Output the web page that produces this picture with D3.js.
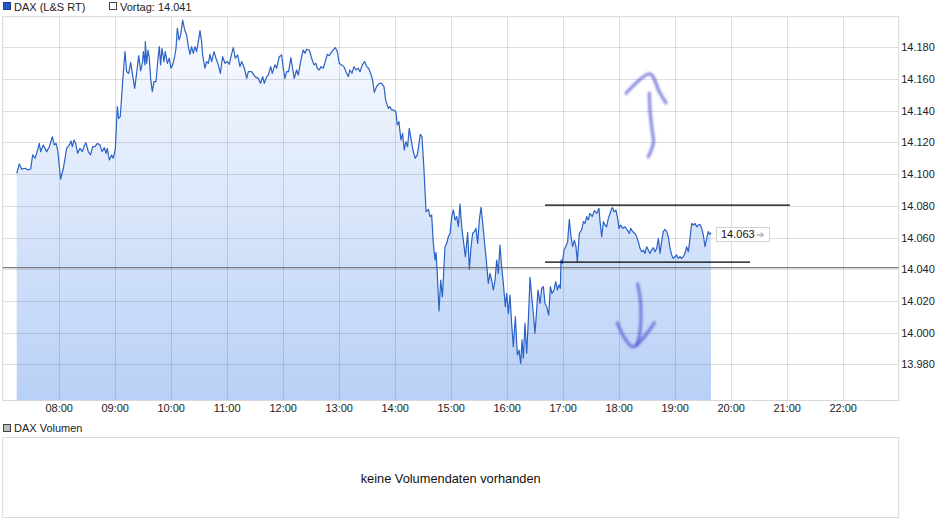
<!DOCTYPE html>
<html>
<head>
<meta charset="utf-8">
<script src="https://cdn.jsdelivr.net/npm/d3@7"></script>
<style>
  body { margin: 0; background: #fff; }
  svg { display: block; font-family: "Liberation Sans", Arial, sans-serif; }
</style>
</head>
<body>
<svg id="chart" width="940" height="526"></svg>
<script>
// ---------- DATA ----------
const seriesName = "DAX (L&S RT)";
const previousCloseLabel = "Vortag";
const previousClose = 14041;
const lastPrice = 14063;
const volumeName = "DAX Volumen";
const volumeMessage = "keine Volumendaten vorhanden";
const hourTicks = ["08:00","09:00","10:00","11:00","12:00","13:00","14:00","15:00","16:00","17:00","18:00","19:00","20:00","21:00","22:00"];
const priceTicks = [13980, 14000, 14020, 14040, 14060, 14080, 14100, 14120, 14140, 14160, 14180];

// minutes after 07:00
const minutesAfter7 = [
15.0,17.8,20.3,23.9,27.5,30.0,32.1,34.6,36.4,39.2,40.7,43.5,47.1,50.0,53.2,55.3,57.1,58.9,62.1,65.0,
68.5,71.4,73.2,74.6,76.4,78.2,80.3,82.8,85.3,87.1,89.2,91.7,94.2,96.4,98.9,101.4,104.2,106.4,108.9,110.7,
112.1,114.2,116.7,118.5,120.7,122.8,124.2,126.0,128.5,131.0,132.8,135.0,137.1,139.2,141.4,143.5,145.7,147.8,149.9,150.7,
152.4,152.8,154.2,155.7,157.1,158.5,160.3,162.1,164.2,166.4,167.8,169.2,170.7,172.8,174.2,176.4,178.5,180.3,182.1,183.9,
185.7,187.1,188.9,190.7,192.8,195.0,197.1,198.9,200.7,202.4,204.2,206.0,207.8,209.6,211.4,213.1,214.2,216.7,218.5,220.3,
222.1,223.9,226.4,228.5,231.0,233.2,235.6,238.2,240.7,242.8,245.0,247.1,249.2,251.7,254.2,256.0,258.9,261.4,263.2,266.7,
270.3,273.8,276.3,278.5,280.3,282.8,284.6,287.1,288.8,291.7,293.5,296.3,298.8,300.6,302.4,304.2,306.3,308.8,310.6,312.4,
314.9,316.7,319.2,322.0,323.8,325.6,328.5,331.0,333.5,335.6,337.0,339.2,341.0,343.5,345.6,347.8,349.9,352.0,354.2,356.3,
358.5,360.6,363.1,365.6,367.8,370.3,372.0,374.2,376.3,378.5,381.0,382.8,385.3,387.8,389.9,392.0,394.2,396.3,398.1,400.6,
403.5,406.0,408.5,410.3,413.1,414.9,416.7,418.5,421.3,422.8,424.5,426.7,428.5,430.2,432.0,433.8,435.6,437.7,439.5,442.0,
444.2,445.6,447.4,449.2,451.3,452.7,453.6,456.1,457.8,459.6,461.4,463.2,464.3,465.7,467.5,469.3,471.1,473.9,475.7,477.5,
479.3,481.1,482.8,484.6,486.4,488.2,490.0,491.8,493.5,495.7,498.2,500.0,501.8,503.5,505.3,507.1,508.9,510.7,512.5,514.3,
516.0,517.8,520.3,522.1,523.9,525.7,527.5,529.3,531.0,532.8,534.6,536.4,538.5,540.0,541.8,543.5,545.3,547.1,549.3,551.4,
553.2,555.0,556.4,557.8,559.6,561.4,563.2,565.0,566.8,568.5,570.3,572.1,573.5,575.7,577.5,579.3,581.0,582.8,585.0,586.8,
588.5,590.7,592.5,594.3,596.0,597.5,598.2,599.6,601.4,603.2,605.3,607.1,608.9,610.7,612.5,614.2,615.7,617.8,620.3,622.1,
623.9,625.7,627.5,629.2,631.7,633.9,636.4,638.9,640.0,641.8,643.6,645.3,647.1,648.9,650.7,652.5,653.5,655.0,657.1,658.9,
660.3,662.1,664.3,666.8,669.3,671.4,672.8,675.0,677.5,679.3,681.0,682.8,684.6,686.4,688.2,690.0,691.8,693.5,695.3,697.1,
698.9,700.7,702.5,704.3,706.0,707.8,709.6,711.4,713.2,715.0,716.8,718.5,720.3,722.1,723.9,725.7,727.5,729.2,731.0,732.8,
734.6,736.4,738.2,740.0,741.8,743.5,745.3,747.1,748.9,750.7,752.5,754.3,756.0,757.8,758.9
];
const prices = [
14100.5,14106.4,14103.2,14103.7,14102.6,14103.2,14112.1,14110.0,14113.1,14119.4,14114.2,14118.4,14114.2,14117.3,14123.6,14118.4,14119.4,14115.2,14096.9,14103.7,
14116.3,14118.4,14120.9,14117.3,14121.5,14119.4,14113.1,14116.3,14114.2,14117.3,14119.9,14114.2,14112.1,14117.3,14117.3,14119.4,14118.4,14114.2,14116.7,14113.1,
14116.3,14108.9,14112.1,14110.0,14116.3,14142.6,14135.2,14136.3,14158.3,14177.3,14164.6,14163.6,14170.5,14162.5,14154.1,14163.6,14174.7,14165.1,14171.0,14177.3,
14168.9,14183.6,14169.9,14178.3,14173.1,14160.4,14152.0,14158.3,14158.3,14173.1,14180.4,14168.9,14179.4,14171.0,14177.3,14169.9,14173.1,14166.8,14168.9,14173.1,
14179.4,14192.0,14184.6,14187.8,14197.2,14190.9,14187.8,14180.4,14175.6,14180.4,14176.2,14180.4,14177.3,14183.6,14190.5,14183.6,14175.2,14166.8,14171.0,14169.9,
14175.6,14171.0,14177.3,14173.1,14168.9,14163.6,14174.1,14169.9,14171.0,14169.3,14175.2,14179.8,14173.1,14175.2,14167.8,14171.0,14166.8,14160.4,14164.6,14164.6,
14161.5,14160.4,14157.3,14161.5,14157.3,14161.5,14162.5,14167.8,14163.6,14168.9,14166.8,14174.1,14175.2,14166.8,14160.4,14164.6,14164.6,14173.5,14166.8,14160.4,
14165.7,14162.5,14171.0,14178.3,14176.2,14178.7,14178.3,14173.1,14168.9,14169.9,14166.8,14165.7,14167.8,14166.8,14171.0,14175.6,14174.7,14176.8,14178.3,14179.8,
14177.3,14169.9,14168.9,14167.8,14164.6,14161.5,14165.7,14163.6,14167.8,14165.7,14166.8,14164.6,14168.9,14171.0,14167.8,14166.8,14163.6,14159.4,14151.6,14155.2,
14157.3,14157.3,14155.2,14146.8,14141.5,14142.6,14140.5,14140.5,14139.4,14131.0,14133.1,14121.5,14125.7,14115.2,14120.5,14117.3,14128.9,14121.5,14115.2,14110.0,
14112.1,14117.3,14125.1,14123.6,14103.7,14086.8,14076.3,14077.8,14073.2,14074.2,14056.3,14045.8,14050.5,14036.4,14013.7,14033.2,14022.7,14054.2,14056.3,14060.5,
14062.7,14073.2,14077.4,14071.1,14073.2,14066.9,14081.2,14066.9,14058.4,14047.9,14063.1,14039.9,14054.2,14062.7,14063.7,14065.8,14056.3,14071.1,14079.1,14069.0,
14058.4,14047.9,14031.1,14037.4,14033.2,14026.9,14033.2,14045.8,14037.4,14055.3,14041.6,14031.1,14016.4,14024.8,14012.2,14023.7,14005.9,13991.2,14010.1,13985.9,
13989.0,13980.6,13995.4,13983.8,14005.9,13987.0,14008.0,14034.9,14022.7,14012.2,13999.6,14014.3,14026.9,14018.5,14028.0,14029.0,14018.5,14016.4,14011.1,14029.0,
14024.8,14026.9,14032.2,14026.9,14030.1,14028.0,14045.8,14043.7,14052.1,14054.2,14057.4,14071.5,14060.5,14054.2,14058.4,14054.2,14044.8,14062.7,14064.8,14070.0,
14069.0,14073.2,14071.1,14075.3,14073.2,14077.0,14075.3,14078.4,14070.0,14060.5,14070.0,14067.9,14066.8,14072.1,14075.2,14078.4,14078.8,14076.3,14077.3,14072.1,
14065.8,14067.9,14065.8,14066.8,14064.7,14062.6,14065.8,14063.7,14062.6,14060.5,14057.4,14053.2,14051.0,14052.1,14050.0,14054.2,14052.1,14050.0,14052.1,14053.6,
14051.0,14053.2,14059.5,14050.0,14057.4,14063.7,14065.1,14063.7,14060.5,14053.2,14049.0,14046.8,14047.9,14049.0,14046.8,14047.9,14046.8,14047.9,14050.0,14054.2,
14051.0,14059.5,14068.9,14067.9,14068.9,14066.8,14067.9,14068.3,14065.8,14061.6,14054.2,14059.5,14063.7,14062.0,14063.0
];

// hand-drawn annotations, [minutes after 07:00, price]
const upArrowShaft = [[691.7,14111.0],[697.1,14119.6],[695.3,14129.9],[693.5,14140.4],[692.8,14151.0]];
const upArrowHead = [[667.9,14151.0],[693.5,14163.2],[703.5,14152.0],[710.7,14144.9]];
const downArrowShaft = [[680.3,14030.7],[683.5,14018.5],[682.0,13997.4],[679.2,13992.2]];
const downArrowHead = [[658.5,14006.2],[667.0,13996.0],[675.6,13991.1],[698.2,14006.2]];
// drawn resistance / support lines: [startMin, endMin, price]
const resistanceLine = [581, 843.5, 14080.5];
const supportLine = [581, 800.7, 14044.5];

// ---------- CHART ----------
const svg = d3.select("#chart");
const base = new Date(2021, 0, 4, 7, 0, 0);
const toDate = m => new Date(base.getTime() + m * 60000);
const parseHM = d3.timeParse("%H:%M");
const hm = s => { const p = parseHM(s); return new Date(2021, 0, 4, p.getHours(), p.getMinutes()); };

const plot = { left: 2.7, right: 898.7, top: 16.7, bottom: 400.5 };
const x = d3.scaleTime().domain([hm("07:00"), hm("23:00")]).range([plot.left, plot.right]);
const y = d3.scaleLinear().domain([13957.2, 14199.3]).range([plot.bottom, plot.top]);

const de = d3.formatLocale({ decimal: ",", thousands: ".", grouping: [3], currency: ["", " €"] });
const fmt = de.format(",.0f");

const data = minutesAfter7.map((m, i) => ({ t: toDate(m), v: prices[i] }));

const defs = svg.append("defs");
const grad = defs.append("linearGradient").attr("id", "fillGrad")
  .attr("gradientUnits", "userSpaceOnUse").attr("x1", 0).attr("x2", 0)
  .attr("y1", plot.top).attr("y2", plot.bottom);
grad.append("stop").attr("offset", "0%").attr("stop-color", "#fbfcff");
grad.append("stop").attr("offset", "100%").attr("stop-color", "#b8d0f6");
const blur = defs.append("filter").attr("id", "soft").attr("x", "-20%").attr("y", "-20%").attr("width", "140%").attr("height", "140%");
blur.append("feGaussianBlur").attr("stdDeviation", 0.9);

// legend
const lg = svg.append("g");
lg.append("rect").attr("x", 3.5).attr("y", 2.5).attr("width", 7).attr("height", 7)
  .attr("fill", "#2458c0").attr("stroke", "#1a3f8a");
lg.append("text").attr("x", 14).attr("y", 10.5).attr("font-size", 11).attr("fill", "#222").text(seriesName);
lg.append("rect").attr("x", 109.5).attr("y", 2.5).attr("width", 7).attr("height", 7)
  .attr("fill", "#fff").attr("stroke", "#444");
lg.append("text").attr("x", 120).attr("y", 10.5).attr("font-size", 11).attr("fill", "#222")
  .text(previousCloseLabel + ": " + fmt(previousClose));

// plot frame background
svg.append("rect").attr("x", plot.left).attr("y", plot.top)
  .attr("width", plot.right - plot.left).attr("height", plot.bottom - plot.top)
  .attr("fill", "#fff");

// area
const area = d3.area().x(d => x(d.t)).y0(plot.bottom).y1(d => y(d.v));
svg.append("path").datum(data).attr("d", area).attr("fill", "url(#fillGrad)");

// grid
const grid = svg.append("g").attr("stroke", "#000").attr("stroke-opacity", 0.12).attr("shape-rendering", "crispEdges");
grid.selectAll(".vg").data(hourTicks).join("line")
  .attr("x1", d => Math.round(x(hm(d))) + 0.5).attr("x2", d => Math.round(x(hm(d))) + 0.5)
  .attr("y1", plot.top).attr("y2", plot.bottom);
grid.selectAll(".hg").data(priceTicks).join("line")
  .attr("x1", plot.left).attr("x2", plot.right)
  .attr("y1", d => Math.round(y(d)) + 0.5).attr("y2", d => Math.round(y(d)) + 0.5);

// frame
svg.append("rect").attr("x", plot.left).attr("y", plot.top)
  .attr("width", plot.right - plot.left).attr("height", plot.bottom - plot.top)
  .attr("fill", "none").attr("stroke", "#d8d8d8");

// previous close line
svg.append("line").attr("x1", plot.left).attr("x2", plot.right)
  .attr("y1", y(previousClose)).attr("y2", y(previousClose))
  .attr("stroke", "#7a7a7a").attr("stroke-width", 1.4);

// price line
const line = d3.line().x(d => x(d.t)).y(d => y(d.v));
svg.append("path").datum(data).attr("d", line).attr("fill", "none")
  .attr("stroke", "#2a62c6").attr("stroke-width", 1.2).attr("stroke-linejoin", "round");

// drawn horizontal lines
[resistanceLine, supportLine].forEach(l => {
  svg.append("line").attr("x1", x(toDate(l[0]))).attr("x2", x(toDate(l[1])))
    .attr("y1", y(l[2])).attr("y2", y(l[2])).attr("stroke", "#000").attr("stroke-width", 1.2);
});

// hand-drawn arrows
const annLine = d3.line().x(d => x(toDate(d[0]))).y(d => y(d[1])).curve(d3.curveCatmullRom);
const arrows = svg.append("g").attr("filter", "url(#soft)");
[upArrowShaft, upArrowHead, downArrowShaft, downArrowHead].forEach(pts => {
  arrows.append("path").attr("d", annLine(pts)).attr("fill", "none")
    .attr("stroke", "#4b4bd2").attr("stroke-opacity", 0.62).attr("stroke-width", 3.3)
    .attr("stroke-linecap", "round").attr("stroke-linejoin", "round");
});

// last price label
const last = data[data.length - 1];
const lx = x(last.t) + 5, ly = y(lastPrice) + 1;
svg.append("rect").attr("x", lx + 0.5).attr("y", Math.round(ly - 7) + 0.5).attr("width", 53).attr("height", 14)
  .attr("fill", "#fff").attr("stroke", "#d4d4d4");
svg.append("text").attr("x", lx + 5).attr("y", ly + 4).attr("font-size", 11).attr("fill", "#111").text(fmt(lastPrice));
svg.append("text").attr("x", lx + 40).attr("y", ly + 4).attr("font-size", 10).attr("fill", "#b0b0b0").text("➔");

// axes
const yAxis = d3.axisRight(y).tickValues(priceTicks).tickFormat(fmt).tickSize(0).tickPadding(0);
const ya = svg.append("g").attr("transform", `translate(${plot.right + 2.5},0)`).call(yAxis);
ya.select(".domain").remove();
ya.selectAll("text").attr("font-size", 11).attr("fill", "#222").attr("font-family", "Liberation Sans, Arial, sans-serif");

const xAxis = d3.axisBottom(x).tickValues(hourTicks.map(hm)).tickFormat(d3.timeFormat("%H:%M")).tickSize(0).tickPadding(0);
const xa = svg.append("g").attr("transform", `translate(0,${plot.bottom + 3.5})`).call(xAxis);
xa.select(".domain").remove();
xa.selectAll("text").attr("font-size", 11).attr("fill", "#222").attr("font-family", "Liberation Sans, Arial, sans-serif");

// volume panel
svg.append("rect").attr("x", 3.5).attr("y", 424.5).attr("width", 7).attr("height", 7)
  .attr("fill", "#bdbdbd").attr("stroke", "#444");
svg.append("text").attr("x", 14).attr("y", 432).attr("font-size", 11).attr("fill", "#222").text(volumeName);
svg.append("rect").attr("x", plot.left).attr("y", 437.5).attr("width", plot.right - plot.left).attr("height", 80)
  .attr("fill", "#fff").attr("stroke", "#dadada");
svg.append("text").attr("x", (plot.left + plot.right) / 2).attr("y", 482.5).attr("text-anchor", "middle")
  .attr("font-size", 12.8).attr("fill", "#111").text(volumeMessage);
</script>
</body>
</html>
